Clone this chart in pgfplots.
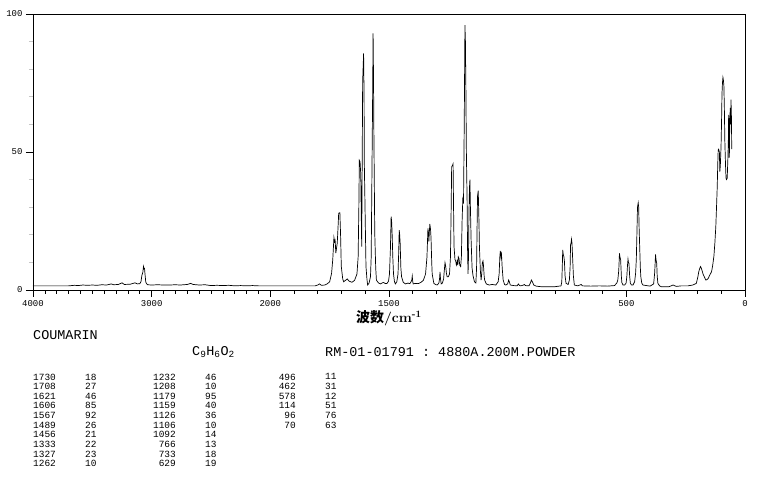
\documentclass[border=0pt]{standalone}
\usepackage{fontspec}
\setmonofont{Liberation Mono}
\newfontfamily\cjk{Noto Sans CJK SC}
\usepackage{pgfplots}
\pgfplotsset{compat=1.18}
\pgfplotstableread{
w I
4000 1.5
3900 1.5
3800 1.5
3700 1.5
3650 1.7
3620 1.6
3580 1.8
3540 1.7
3500 1.8
3460 1.7
3420 1.9
3380 1.8
3340 2.2
3320 1.9
3280 2.0
3250 2.6
3230 2.0
3180 2.1
3140 2.6
3120 2.2
3100 2.3
3090 3.0
3082 5.4
3075 6.2
3069 8.5
3065 7.6
3060 7.8
3057 6.2
3050 3.0
3046 2.5
3035 1.9
3000 1.8
2950 1.9
2900 1.8
2850 1.8
2800 1.9
2760 1.8
2700 2.0
2672 2.4
2650 2.0
2600 1.8
2550 1.9
2500 1.6
2450 1.7
2400 1.6
2350 1.7
2300 1.5
2250 1.6
2200 1.5
2150 1.6
2100 1.5
2050 1.5
2000 1.5
1900 1.5
1850 1.5
1811 1.5
1800 1.8
1793 2.2
1785 1.7
1770 1.8
1759 2.3
1750 3.0
1742 6.0
1737 11
1732 19
1729 17.5
1727 18
1724 13.4
1718 17
1714 24
1712 27.8
1707 28
1704 20
1701 8.5
1695 4
1691 3
1683 3.5
1676 4
1668 3.2
1656 2.8
1645 3.5
1635 5.8
1630 12
1627 30
1625 47
1622 46.5
1619 42
1617 28
1615 15.7
1613 45
1611 75.5
1607 85.7
1605 70
1604 46
1601 30
1597 8.5
1593 4
1590 1.8
1584 2.5
1578 4.8
1575 12
1572 41
1569 70
1567 93
1565 75
1564 59.8
1562 40
1560 20.5
1556 8
1553 3.6
1545 2.6
1536 2.2
1528 2.6
1522 2.7
1515 2.3
1508 2.4
1502 3.2
1498 5.8
1494 15
1491 26.6
1489 25
1487 21
1484 12
1481 5.8
1477 3
1473 2.2
1467 3
1462 5.8
1459 14
1457 21.7
1455 20
1453 17
1450 8
1447 4.8
1440 2.8
1431 2.2
1420 2.5
1412 2.3
1407 3.0
1404 3.6
1402 5.0
1400 3.0
1398 2.2
1390 2.4
1380 2.3
1374 2.4
1365 2.8
1355 3.5
1346 5.8
1340 12
1336 22.3
1334 21
1332 17.5
1330 21
1328 23.9
1325 22
1323 19
1320 10
1318 5.8
1311 2.4
1304 2.0
1297 1.8
1290 2.5
1287 4
1285 6.6
1283 4
1280 2.2
1275 2.5
1270 4
1266 8
1264 9.9
1261 8.5
1258 6
1255 4.8
1250 4.8
1245 5.8
1241 12
1238 30
1236 44.7
1233 45
1230 45.7
1228 30
1226 15.7
1222 11
1219 10.5
1216 9
1214 9.5
1212 11
1210 9
1208 12
1205 11.4
1202 9
1198 8.5
1195 12
1192 25
1189 33
1186 32
1183 60
1180 96
1178 90
1176 72.5
1174 50
1171 33
1169 15
1167 5.8
1165 12
1163 28
1161 37
1159 40
1157 30
1154 18
1150 8
1146 5.2
1140 3.0
1134 2.5
1131 8
1129 22
1127 34
1124 36
1121 25
1119 15.7
1115 7
1112 3.6
1109 6
1107 9.7
1104 10.5
1102 9
1099 5
1097 3.6
1090 2.2
1078 1.8
1065 2.0
1050 1.8
1040 3
1036 5.8
1033 12
1031 14.2
1028 12
1026 13
1023 8
1019 3.6
1013 2
1008 1.8
1000 2.2
996 3.6
993 3.0
989 1.8
975 1.6
960 1.5
955 2.2
950 1.6
945 1.5
933 1.8
930 2.0
925 1.6
910 1.5
904 2.6
900 3.6
896 3.0
890 1.8
880 1.4
860 1.2
800 1.2
775 1.5
772 3
770 8
768 14.5
766 13
763 12
761 10.5
758 5
754 2.4
745 2.0
740 3.6
737 8
735 16.4
733 17
731 18.4
729 17
726 11
723 5
719 1.8
705 1.5
690 2.0
685 1.5
650 1.4
613 1.5
580 1.4
550 1.6
540 2.5
536 3.6
532 7
530 11
529 13.3
527 12
524 11
521 5
519 2.7
514 1.8
507 1.8
501 2.5
498 4.8
495 9
493 11.2
491 10
489 9.7
486 5
483 2.4
478 1.8
472 1.8
465 3
461 6
458 11
455 22
453 30
450 31.6
448 30
446 22
444 16.4
441 8
439 4.8
435 2.5
430 1.8
400 1.4
385 2.2
381 5.8
379 9
377 12.9
375 11
372 9.7
370 5
367 2.4
360 1.5
353 1.2
320 1.2
303 1.8
290 1.3
268 1.5
240 1.5
220 1.8
205 2.4
198 5
195 6.6
190 8
187 8.5
183 7.6
176 5.6
170 4.5
165 3.6
160 3.8
155 4.2
148 5.5
141 6.6
136 9
131 12.3
127 17
123 23
120 30
117 37.4
115 45
113 50.7
111 51
108 50
106 42.9
104 45
101 51.9
99 60
97 71
95 75
93 77
91 76
89 74
87 66
85 54
82 45
80 40.5
78 40
75 40.5
72 48
70 55
69 63.4
67 58
66 48
64 62
62 66
60 60
59 69
57 62
56 51
}\spectrum
\begin{document}
\begin{tikzpicture}[x=1bp,y=1bp]
\useasboundingbox (0,0) rectangle (761,477);
\begin{axis}[
  at={(33bp,187bp)}, anchor=south west,
  scale only axis, width=712bp, height=276bp,
  xmin=0, xmax=3000, ymin=0, ymax=100,
  x dir=reverse,
  axis line style={line width=0.8bp},
  tick pos=left,
  xtick={0,500,1500,2000,2500,3000},
  xticklabels={0,500,1500,2000,3000,4000},
  minor xtick={100,200,300,400,600,700,800,900,1000,1100,1200,1300,1400,1600,1700,1800,1900,2050,2100,2150,2200,2250,2300,2350,2400,2450,2550,2600,2650,2700,2750,2800,2850,2900,2950},
  ytick={0,50,100}, yticklabels={0,50,100},
  minor ytick={10,20,30,40,60,70,80,90},
  tick align=outside,
  major tick length=7bp, minor tick length=4bp,
  tick style={black, line width=0.6bp},
  minor y tick style={gray!45},
  tick label style={font=\fontsize{9}{9}\selectfont\ttfamily},
  x filter/.expression={x>2000 ? 2000+(x-2000)/2 : x},
]
\addplot[black, line width=0.7bp, mark=none] table[x=w, y=I] {\spectrum};
\end{axis}
\node at (389,158.5) {\fontsize{14}{14}\selectfont{\cjk\bfseries 波数}\textbf{/cm}\textsuperscript{\textbf{-1}}};
\begin{scope}[every node/.style={inner sep=0pt, font=\fontsize{13.5}{13.5}\selectfont\ttfamily}]
\node[anchor=west] at (33,142) {COUMARIN};
\node[anchor=west] at (192,125) {C\textsubscript{9}H\textsubscript{6}O\textsubscript{2}};
\node[anchor=west] at (325,125) {RM-01-01791 : 4880A.200M.POWDER};
\end{scope}
\begin{scope}[every node/.style={inner sep=0pt, font=\fontsize{9.5}{9.67}\selectfont\ttfamily}]
\node[anchor=north west, align=left] at (33,103.5) {1730\\1708\\1621\\1606\\1567\\1489\\1456\\1333\\1327\\1262};
\node[anchor=north west, align=left] at (85,103.5) {18\\27\\46\\85\\92\\26\\21\\22\\23\\10};
\node[anchor=north east, align=right] at (176,103.5) {1232\\1208\\1179\\1159\\1126\\1106\\1092\\766\\733\\629};
\node[anchor=north west, align=left] at (205,103.5) {46\\10\\95\\40\\36\\10\\14\\13\\18\\19};
\node[anchor=north east, align=right] at (296,103.5) {496\\462\\578\\114\\96\\70};
\node[anchor=north west, align=left] at (325,103.5) {11\\31\\12\\51\\76\\63};
\end{scope}
\end{tikzpicture}
\end{document}
